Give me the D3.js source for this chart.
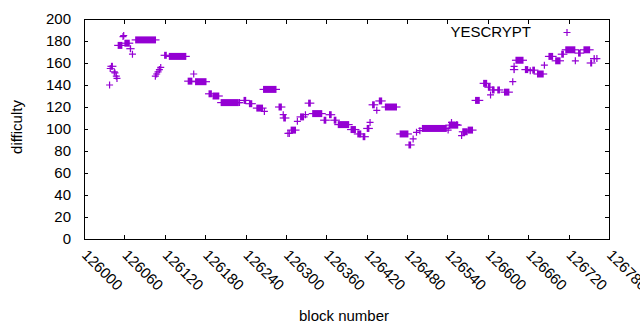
<!DOCTYPE html>
<html>
<head>
<meta charset="utf-8">
<script src="https://cdn.jsdelivr.net/npm/d3@7"></script>
<style>
  body { margin: 0; background: #fff; }
  text { font-family: "Liberation Sans", Arial, sans-serif; fill: #000; }
</style>
</head>
<body>
<svg></svg>
<script>
const width = 640,
      height = 330,
      base = 126000,        // block numbers below are offsets from this
      col = '#9400d3',      // gnuplot's first line colour
      arm = 3.5;            // half size of a "+" marker

// plateaus: difficulty held for a stretch of consecutive blocks
const runStart = [40, 50, 60, 68, 76, 119, 126, 154, 165, 185, 191, 203, 237, 245, 256, 266, 289, 296, 307, 321,
                  333, 339, 356, 364, 371, 377, 396, 406, 414, 420, 428, 438, 447, 469, 482, 502, 542, 562, 570, 581,
                  593, 600, 606, 614, 624, 638, 641, 655, 666, 673, 690, 700, 709, 715, 734, 742, 752, 757];
const runEnd   = [43, 57, 68, 70, 107, 123, 152, 161, 182, 190, 201, 230, 241, 250, 266, 286, 294, 300, 315, 327,
                  337, 354, 360, 368, 375, 394, 404, 412, 418, 424, 432, 443, 465, 482, 486, 539, 556, 570, 578, 588,
                  599, 604, 610, 618, 632, 640, 653, 660, 670, 683, 697, 708, 713, 730, 738, 752, 755, 759];
const runDiff  = [157, 176, 178, 173, 181, 167, 166, 143.5, 143, 132, 130, 124, 126, 123, 119, 136, 120, 110, 99, 111,
                  123.5, 114, 108, 113, 108, 104, 99.5, 95.5, 93, 100.5, 122, 125.5, 120, 95.5, 85.5, 100.5, 103.5, 97.5, 99, 126,
                  141.5, 138, 135.5, 135.5, 133.5, 154, 162.5, 154, 153.5, 150, 166, 162, 168, 172, 169, 172, 160, 164];

// single blocks standing apart
const ptBlock = [38, 39, 45, 46, 48, 49, 58, 59, 72, 106, 108, 110, 112, 114, 163, 231, 268, 296, 303, 305,
                 317, 329, 425, 435, 489, 494, 499, 541, 546, 554, 561, 604, 637, 639, 663, 684, 730, 762];
const ptDiff  = [140, 155, 152, 151, 148, 146, 184, 185, 168, 148, 150, 152, 154, 156, 150, 124, 116, 113, 96, 96,
                 107, 113, 106, 117, 91, 97, 98.5, 99, 106, 104, 94, 131, 143, 157, 153, 158, 162, 164];

const xTicks = d3.range(126000, 126781, 60);
const yTicks = d3.range(0, 201, 20);

const runs = runStart.map((s, i) => ({s: base + s, e: base + runEnd[i], d: runDiff[i]}));
const pts = ptBlock.map((b, i) => ({b: base + b, d: ptDiff[i]}));

const m = {left: 84, right: 609, top: 19, bottom: 239};

const x = d3.scaleLinear().domain([126000, 126780]).range([m.left, m.right]);
const y = d3.scaleLinear().domain([0, 200]).range([m.bottom, m.top]);

const svg = d3.select('svg')
  .attr('width', width)
  .attr('height', height)
  .style('background', '#fff');

// plot border
svg.append('rect')
  .attr('x', m.left + 0.5).attr('y', m.top + 0.5)
  .attr('width', m.right - m.left).attr('height', m.bottom - m.top)
  .attr('fill', 'none').attr('stroke', '#000').attr('stroke-width', 1);

// ticks on all four sides, pointing in
const tickLen = 4;
const tk = svg.append('g').attr('stroke', '#000').attr('stroke-width', 1);
xTicks.forEach(t => {
  const px = Math.round(x(t)) + 0.5;
  tk.append('line').attr('x1', px).attr('x2', px).attr('y1', m.bottom).attr('y2', m.bottom - tickLen);
  tk.append('line').attr('x1', px).attr('x2', px).attr('y1', m.top + 1).attr('y2', m.top + 1 + tickLen);
});
yTicks.forEach(t => {
  const py = Math.round(y(t)) + 0.5;
  tk.append('line').attr('x1', m.left).attr('x2', m.left + tickLen).attr('y1', py).attr('y2', py);
  tk.append('line').attr('x1', m.right).attr('x2', m.right - tickLen).attr('y1', py).attr('y2', py);
});

// tick labels
svg.append('g').selectAll('text')
  .data(yTicks)
  .enter().append('text')
  .attr('x', m.left - 13)
  .attr('y', d => y(d))
  .attr('dy', '0.36em')
  .attr('text-anchor', 'end')
  .style('font-size', '15px')
  .text(d => d);

svg.append('g').selectAll('text')
  .data(xTicks)
  .enter().append('text')
  .attr('transform', d => 'translate(' + [x(d) - 3, 256] + ') rotate(45)')
  .attr('text-anchor', 'start')
  .style('font-size', '15px')
  .text(d => d);

// axis titles
svg.append('text')
  .attr('transform', 'translate(' + [22, 127] + ') rotate(-90)')
  .attr('text-anchor', 'middle')
  .style('font-size', '15px')
  .text('difficulty');

svg.append('text')
  .attr('x', 344)
  .attr('y', 321)
  .attr('text-anchor', 'middle')
  .style('font-size', '15px')
  .text('block number');

// data
const cross = (cx, cy) => 'M' + (cx - arm) + ',' + cy + 'H' + (cx + arm) + 'M' + cx + ',' + (cy - arm) + 'V' + (cy + arm);

const plot = svg.append('g');

// a plateau of "+" marks merges into a block with the arms poking out
plot.selectAll('rect.run')
  .data(runs)
  .enter().append('rect')
  .attr('class', 'run')
  .attr('x', d => x(d.s))
  .attr('y', d => y(d.d) - arm)
  .attr('width', d => Math.max(1, x(d.e) - x(d.s)))
  .attr('height', arm * 2)
  .attr('fill', col);

plot.selectAll('path.arm')
  .data(runs)
  .enter().append('path')
  .attr('class', 'arm')
  .attr('d', d => 'M' + (x(d.s) - arm) + ',' + y(d.d) + 'H' + (x(d.e) + arm))
  .attr('stroke', col)
  .attr('stroke-width', 1.2)
  .attr('fill', 'none');

plot.selectAll('path.pt')
  .data(pts)
  .enter().append('path')
  .attr('class', 'pt')
  .attr('d', d => cross(x(d.b), y(d.d)))
  .attr('stroke', col)
  .attr('stroke-width', 1.2)
  .attr('fill', 'none');

// key
svg.append('text')
  .attr('x', 531)
  .attr('y', 37)
  .attr('text-anchor', 'end')
  .style('font-size', '15px')
  .text('YESCRYPT');

svg.append('path')
  .attr('d', cross(567, 32.5))
  .attr('stroke', col)
  .attr('stroke-width', 1.2)
  .attr('fill', 'none');
</script>
</body>
</html>
